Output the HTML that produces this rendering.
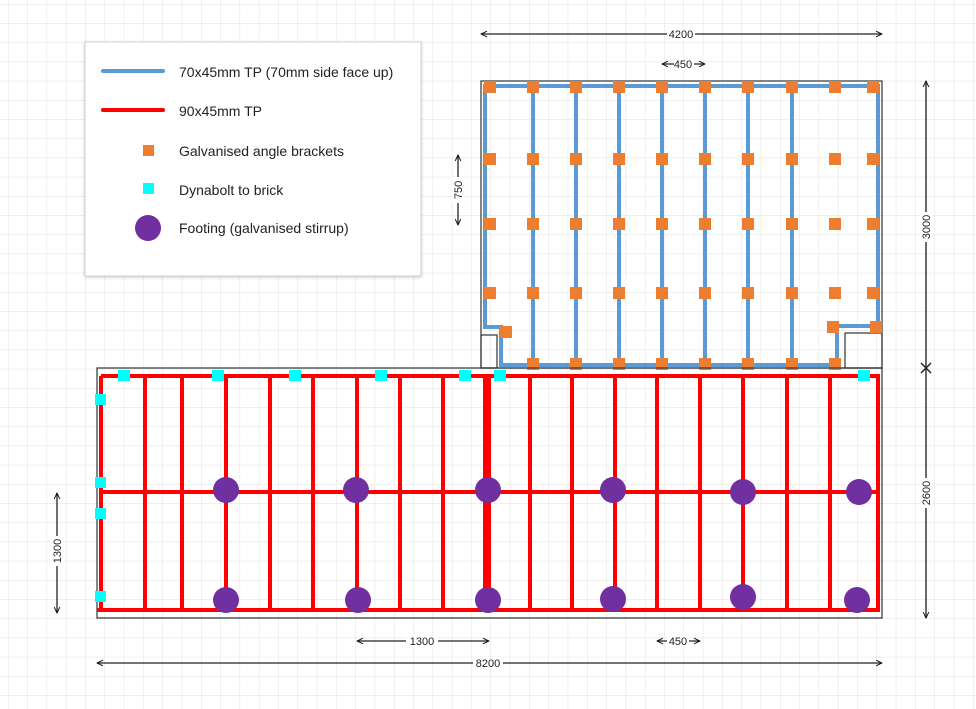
<!DOCTYPE html>
<html><head><meta charset="utf-8"><style>
html,body{margin:0;padding:0;background:#fff}
svg{display:block}
text{font-family:"Liberation Sans",sans-serif;fill:#222}
</style></head><body>
<svg width="976" height="709" viewBox="0 0 976 709" xmlns="http://www.w3.org/2000/svg">
<defs>
<pattern id="g" x="8" y="4" width="19.3" height="19.2" patternUnits="userSpaceOnUse">
<path d="M0 0H19.3M0 0V19.2" stroke="#e0e0e0" stroke-width="1" fill="none"/>
</pattern>
<marker id="ar" viewBox="0 0 10 10" refX="9.5" refY="5" markerWidth="7" markerHeight="7" orient="auto-start-reverse" markerUnits="userSpaceOnUse"><path d="M1 1L9.5 5L1 9" fill="none" stroke="#111" stroke-width="1.4"/></marker>
<filter id="sh" x="-5%" y="-5%" width="110%" height="110%"><feDropShadow dx="0" dy="1" stdDeviation="1.5" flood-color="#000" flood-opacity="0.2"/></filter>
</defs>
<rect width="976" height="709" fill="#fff"/>
<rect width="976" height="709" fill="url(#g)"/>

<!-- Upper area -->
<rect x="481" y="81" width="401" height="287" fill="none" stroke="#333" stroke-width="1.2"/>
<rect x="481" y="335" width="16" height="33" fill="none" stroke="#333" stroke-width="1.2"/>
<rect x="845" y="333" width="37" height="35" fill="none" stroke="#333" stroke-width="1.2"/>
<g stroke="#5b9bd5" stroke-width="4" fill="none">
<path d="M485 86H878V326H837V365H501V327H485Z"/>
<path d="M533 86V365M576 86V365M619 86V365M662 86V365M705 86V365M748 86V365M792 86V365"/>
</g>
<g fill="#ed7d31">
<g id="r1">
<rect x="484" y="81" width="12" height="12"/><rect x="527" y="81" width="12" height="12"/><rect x="570" y="81" width="12" height="12"/><rect x="613" y="81" width="12" height="12"/><rect x="656" y="81" width="12" height="12"/><rect x="699" y="81" width="12" height="12"/><rect x="742" y="81" width="12" height="12"/><rect x="786" y="81" width="12" height="12"/><rect x="829" y="81" width="12" height="12"/><rect x="867" y="81" width="12" height="12"/>
</g>
<use href="#r1" y="72"/><use href="#r1" y="137"/><use href="#r1" y="206"/>
<rect x="527" y="358" width="12" height="12"/><rect x="570" y="358" width="12" height="12"/><rect x="613" y="358" width="12" height="12"/><rect x="656" y="358" width="12" height="12"/><rect x="699" y="358" width="12" height="12"/><rect x="742" y="358" width="12" height="12"/><rect x="786" y="358" width="12" height="12"/><rect x="829" y="358" width="12" height="12"/>
<rect x="500" y="326" width="12" height="12"/><rect x="827" y="321" width="12" height="12"/><rect x="870" y="321" width="12" height="12"/>
</g>

<!-- Lower area -->
<rect x="97" y="368" width="785" height="250" fill="none" stroke="#333" stroke-width="1.2"/>
<g stroke="#ff0000" stroke-width="4" fill="none">
<path d="M101 376H878V610H97M101 376V610M101 492H878"/>
<path d="M145 376V608M182 376V608M226 376V608M270 376V608M313 376V608M357 376V608M400 376V608M443 376V608M485 376V610M489 376V610M530 376V608M572 376V608M615 376V608M657 376V608M700 376V608M743 376V608M787 376V608M830 376V608"/>
</g>
<g fill="#7030a0">
<circle cx="226" cy="490" r="13"/><circle cx="356" cy="490" r="13"/><circle cx="488" cy="490" r="13"/><circle cx="613" cy="490" r="13"/><circle cx="743" cy="492" r="13"/><circle cx="859" cy="492" r="13"/>
<circle cx="226" cy="600" r="13"/><circle cx="358" cy="600" r="13"/><circle cx="488" cy="600" r="13"/><circle cx="613" cy="599" r="13"/><circle cx="743" cy="597" r="13"/><circle cx="857" cy="600" r="13"/>
</g>
<g fill="#00ffff">
<rect x="118" y="370" width="12" height="11"/><rect x="212" y="370" width="12" height="11"/><rect x="289" y="370" width="12" height="11"/><rect x="375" y="370" width="12" height="11"/><rect x="459" y="370" width="12" height="11"/><rect x="494" y="370" width="12" height="11"/><rect x="858" y="370" width="12" height="11"/>
<rect x="95" y="394" width="11" height="11"/><rect x="95" y="477" width="11" height="11"/><rect x="95" y="508" width="11" height="11"/><rect x="95" y="591" width="11" height="11"/>
</g>

<!-- Dimensions -->
<g stroke="#222" stroke-width="1.3" fill="none" marker-start="url(#ar)" marker-end="url(#ar)">
<line x1="481" y1="34" x2="882" y2="34"/>
<line x1="662" y1="64" x2="705" y2="64"/>
<line x1="458" y1="155" x2="458" y2="225"/>
<line x1="57" y1="493" x2="57" y2="613"/>
<line x1="357" y1="641" x2="489" y2="641"/>
<line x1="657" y1="641" x2="700" y2="641"/>
<line x1="97" y1="663" x2="882" y2="663"/>
</g>
<g stroke="#444" stroke-width="1.6" fill="none">
<line x1="926" y1="81" x2="926" y2="368" marker-start="url(#ar)"/>
<line x1="926" y1="368" x2="926" y2="618" marker-end="url(#ar)"/>
</g>
<g fill="#fff">
<rect x="667" y="28" width="28" height="12"/>
<rect x="674" y="58" width="20" height="12"/>
<rect x="406" y="635" width="32" height="12"/>
<rect x="667" y="635" width="22" height="12"/>
<rect x="473" y="657" width="30" height="12"/>
<rect x="452" y="177" width="12" height="26"/>
<rect x="920" y="212" width="12" height="30"/>
<rect x="920" y="478" width="12" height="30"/>
<rect x="51" y="536" width="12" height="30"/>
</g>
<g font-size="11">
<text x="681" y="38" text-anchor="middle">4200</text>
<text x="683" y="68" text-anchor="middle">450</text>
<text x="422" y="645" text-anchor="middle">1300</text>
<text x="678" y="645" text-anchor="middle">450</text>
<text x="488" y="667" text-anchor="middle">8200</text>
<text transform="translate(462,190) rotate(-90)" text-anchor="middle">750</text>
<text transform="translate(930,227) rotate(-90)" text-anchor="middle">3000</text>
<text transform="translate(930,493) rotate(-90)" text-anchor="middle">2600</text>
<text transform="translate(61,551) rotate(-90)" text-anchor="middle">1300</text>
</g>
<path d="M921 363L931 373M931 363L921 373" stroke="#222" stroke-width="1.5"/>

<!-- Legend -->
<rect x="85" y="42" width="336" height="234" fill="#fff" stroke="#d0d0d0" filter="url(#sh)"/>
<line x1="103" y1="71" x2="163" y2="71" stroke="#5b9bd5" stroke-width="4" stroke-linecap="round"/>
<line x1="103" y1="110" x2="163" y2="110" stroke="#ff0000" stroke-width="4" stroke-linecap="round"/>
<rect x="143" y="145" width="11" height="11" fill="#ed7d31"/>
<rect x="143" y="183" width="11" height="11" fill="#00ffff"/>
<circle cx="148" cy="228" r="13" fill="#7030a0"/>
<g font-size="14">
<text x="179" y="77">70x45mm TP (70mm side face up)</text>
<text x="179" y="116">90x45mm TP</text>
<text x="179" y="156">Galvanised angle brackets</text>
<text x="179" y="195">Dynabolt to brick</text>
<text x="179" y="233">Footing (galvanised stirrup)</text>
</g>
</svg>
</body></html>
